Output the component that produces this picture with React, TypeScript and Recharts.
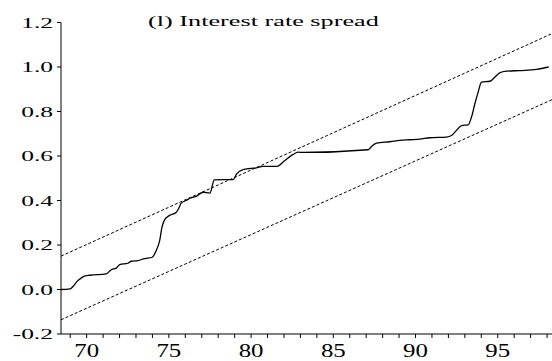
import { LineChart, Line, XAxis, YAxis } from "recharts";

// CUSUM of squares (year, value)
const years = [
  68.44, 68.98, 69.47, 69.88, 70.2, 71.19, 71.5, 71.8, 72.01, 72.51, 72.71,
  73.12, 73.53, 73.99, 74.23, 74.44, 74.58, 74.74, 75.05, 75.45, 75.59, 75.75,
  76.05, 76.28, 76.69, 77.09, 77.5, 77.76, 78.91, 79.12, 79.52, 80.33, 80.74,
  81.55, 82.05, 82.56, 82.86, 83.17, 87.12, 87.33, 87.63, 88.44, 89.05, 89.65,
  90.26, 90.87, 91.88, 92.19, 92.49, 92.8, 93.2, 93.4, 93.61, 93.81, 94.01,
  94.52, 94.82, 95.12, 95.53, 96.34, 97.36, 98.1,
];
const cusum = [
  0.0, 0.003, 0.04, 0.06, 0.064, 0.07, 0.089, 0.096, 0.112, 0.118, 0.127,
  0.13, 0.139, 0.145, 0.175, 0.22, 0.28, 0.313, 0.333, 0.347, 0.363, 0.388,
  0.4, 0.41, 0.42, 0.437, 0.433, 0.493, 0.494, 0.52, 0.539, 0.547, 0.553,
  0.553, 0.58, 0.607, 0.617, 0.616, 0.628, 0.643, 0.658, 0.664, 0.67, 0.673,
  0.676, 0.682, 0.685, 0.692, 0.715, 0.737, 0.74, 0.774, 0.835, 0.887, 0.932,
  0.936, 0.954, 0.974, 0.981, 0.984, 0.989, 1.0,
];

// 5% significance bounds
const boundYears = [68.44, 98.3];
const upperBound = [0.15, 1.15];
const lowerBound = [-0.136, 0.853];

const xTicks = [
  69, 70, 71, 72, 73, 74, 75, 76, 77, 78, 79, 80, 81, 82, 83, 84, 85, 86, 87,
  88, 89, 90, 91, 92, 93, 94, 95, 96, 97, 98,
];
const yTicks = [-0.2, 0.0, 0.2, 0.4, 0.6, 0.8, 1.0, 1.2];

const title = "(l) Interest rate spread";

const serif = "Liberation Serif";

const lineData = years.map((y, i) => ({ year: y, value: cusum[i] }));
const upperData = boundYears.map((y, i) => ({ year: y, value: upperBound[i] }));
const lowerData = boundYears.map((y, i) => ({ year: y, value: lowerBound[i] }));

const YTick = ({ x, y, payload }: any) => (
  <text
    transform={`translate(${x},${y}) scale(1.7,1)`}
    textAnchor="end"
    dy="0.35em"
    fontFamily={serif}
    fontSize={15}
    fill="#000"
  >
    {Number(payload.value).toFixed(1)}
  </text>
);

const XTick = ({ x, y, payload }: any) => {
  if (payload.value % 5 !== 0) return <g />;
  return (
    <text
      transform={`translate(${x},${y}) scale(1.38,1)`}
      textAnchor="middle"
      dy={12}
      fontFamily={serif}
      fontSize={18}
      fill="#000"
    >
      {payload.value}
    </text>
  );
};

export default function App() {
  return (
    <div style={{ position: "absolute", left: 0, top: 0, width: 552, height: 361, background: "#fff" }}>
      <LineChart
        width={552}
        height={361}
        margin={{ top: 22.5, right: 0, bottom: 0, left: 0 }}
      >
        <XAxis
          type="number"
          dataKey="year"
          domain={[68.44, 98.3]}
          ticks={xTicks}
          allowDataOverflow
          height={27}
          tickSize={4}
          tickMargin={7}
          tick={<XTick />}
          interval={0}
          stroke="#000"
        />
        <YAxis
          type="number"
          domain={[-0.2, 1.2]}
          ticks={yTicks}
          allowDataOverflow
          width={61}
          tickSize={4}
          tickMargin={4}
          tick={<YTick />}
          interval={0}
          stroke="#000"
        />
        <Line
          data={upperData}
          dataKey="value"
          stroke="#000"
          strokeWidth={1}
          strokeDasharray="3 2"
          dot={false}
          isAnimationActive={false}
        />
        <Line
          data={lowerData}
          dataKey="value"
          stroke="#000"
          strokeWidth={1}
          strokeDasharray="3 2"
          dot={false}
          isAnimationActive={false}
        />
        <Line
          data={lineData}
          dataKey="value"
          type="monotone"
          stroke="#000"
          strokeWidth={1.3}
          dot={false}
          isAnimationActive={false}
        />
      </LineChart>
      <svg
        width={552}
        height={361}
        style={{ position: "absolute", left: 0, top: 0, pointerEvents: "none" }}
      >
        <text
          transform="translate(148,25.5) scale(1.75,1)"
          fontFamily={serif}
          fontSize={15}
          fill="#000"
        >
          {title}
        </text>
      </svg>
    </div>
  );
}
